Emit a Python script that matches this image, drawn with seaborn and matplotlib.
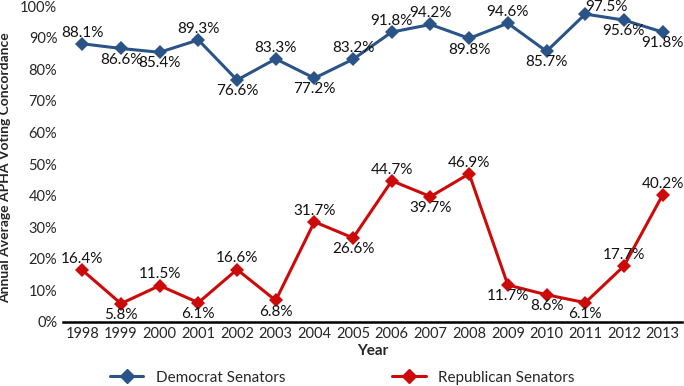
import matplotlib.pyplot as plt
import numpy as np
import pandas as pd
import seaborn as sns

years = [1998, 1999, 2000, 2001, 2002, 2003, 2004, 2005, 2006, 2007, 2008, 2009, 2010, 2011, 2012, 2013]
democrat = [88.1, 86.6, 85.4, 89.3, 76.6, 83.3, 77.2, 83.2, 91.8, 94.2, 89.8, 94.6, 85.7, 97.5, 95.6, 91.8]
republican = [16.4, 5.8, 11.5, 6.1, 16.6, 6.8, 31.7, 26.6, 44.7, 39.7, 46.9, 11.7, 8.6, 6.1, 17.7, 40.2]
# label above (1) or below (-1) the point
dem_pos = [1, -1, -1, 1, -1, 1, -1, 1, 1, 1, -1, 1, -1, 1, -1, -1]
rep_pos = [1, -1, 1, -1, 1, -1, 1, -1, 1, -1, 1, -1, -1, -1, 1, 1]

sns.set_style("white")
plt.rcParams['font.family'] = ['Lato', 'DejaVu Sans']

df = pd.DataFrame({
    "x": list(range(len(years))) * 2,
    "value": democrat + republican,
    "series": ["Democrat Senators"] * len(years) + ["Republican Senators"] * len(years),
})
colors = {"Democrat Senators": "#2A5388", "Republican Senators": "#CC0A0A"}

fig = plt.figure(figsize=(6.84, 3.86), dpi=100)
ax = fig.add_axes([0.092, 0.166, 0.905, 0.818])
sns.lineplot(data=df, x="x", y="value", hue="series", palette=colors, marker="D",
             markersize=7, markeredgewidth=0, linewidth=2.2, ax=ax, legend=False)

for vals, pos in [(democrat, dem_pos), (republican, rep_pos)]:
    for i, (v, p) in enumerate(zip(vals, pos)):
        dx, dy = 0, 3 * p
        if v > 97:  # top label sits up and to the right, as in the original
            dx, dy = 15, 0
        ax.annotate(f"{v:.1f}%", (i, v), xytext=(dx, dy), textcoords="offset points",
                    ha="center", va="bottom" if p > 0 else "top", fontsize=11,
                    color="#111111", annotation_clip=False)

ax.set_xlim(-0.5, len(years) - 0.5)
ax.set_ylim(0, 100)
ax.set_xticks(range(len(years)))
ax.set_xticklabels([str(y) for y in years], fontsize=10.5)
ax.set_xticks(np.arange(-0.5, len(years), 1), minor=True)
ax.tick_params(axis="x", which="major", length=0, pad=4)
ax.tick_params(axis="x", which="minor", direction="in", length=5, width=1.2, color="black")
ax.set_yticks(range(0, 101, 10))
ax.set_yticklabels([f"{t}%" for t in range(0, 101, 10)], fontsize=10.5)
ax.tick_params(axis="y", length=0, pad=4)
for side in ["top", "right", "left"]:
    ax.spines[side].set_visible(False)
ax.spines["bottom"].set_linewidth(1.8)
ax.spines["bottom"].set_color("black")

ax.set_xlabel("Year", fontsize=11, fontweight="bold", labelpad=2)
ax.set_ylabel("Annual Average APHA Voting Concordance", fontsize=10, fontweight="bold")
ax.yaxis.set_label_coords(-0.083, 0.49)

handles = [plt.Line2D([], [], color=colors[k], marker="D", markersize=7, linewidth=2.2) for k in colors]
fig.legend(handles, list(colors), loc="center", ncol=2, frameon=False, fontsize=11,
           bbox_to_anchor=(0.5, 0.022), handlelength=2.2, columnspacing=7, handletextpad=0.8)

fig.savefig("out.png", dpi=100)
